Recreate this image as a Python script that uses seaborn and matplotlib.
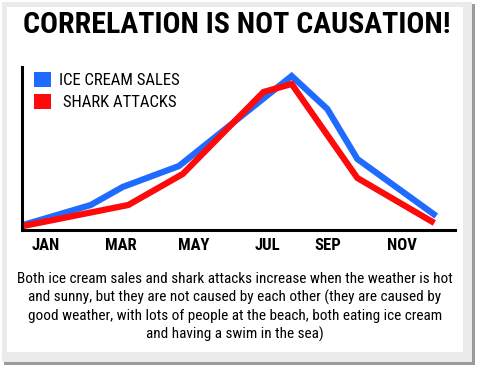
import pandas as pd
import matplotlib
matplotlib.use("Agg")
import matplotlib.pyplot as plt
import seaborn as sns
from matplotlib.patches import Rectangle, Patch

# Data (x in months from January, y in arbitrary units)
ice_month = [0, 1.8, 2.65, 4.15, 7.15, 8.1, 8.9, 11.0]
ice_sales = [5, 25, 43, 64, 154, 121, 71, 14]
shark_month = [0, 2.8, 4.25, 6.4, 7.15, 8.9, 10.95]
shark_attacks = [4, 25, 56, 138, 146, 52, 7]

tick_pos = [0.6, 2.6, 4.55, 6.5, 8.1, 10.1]
tick_labels = ["JAN", "MAR", "MAY", "JUL", "SEP", "NOV"]
series_names = ["ICE CREAM SALES", " SHARK ATTACKS"]
colors = ["#1f6bff", "#ff0a0a"]

title = "CORRELATION IS NOT CAUSATION!"
caption = ("Both ice cream sales and shark attacks increase when the weather is hot\n"
           "and sunny, but they are not caused by each other (they are caused by\n"
           "good weather, with lots of people at the beach, both eating ice cream\n"
           "and having a swim in the sea)")

df = pd.concat([
    pd.DataFrame({"month": ice_month, "value": ice_sales, "series": series_names[0]}),
    pd.DataFrame({"month": shark_month, "value": shark_attacks, "series": series_names[1]}),
])

sns.set_style("white")
plt.rcParams['font.family'] = ['Roboto Condensed', 'Liberation Sans Narrow', 'DejaVu Sans']
plt.rcParams['font.stretch'] = 'condensed'
plt.rcParams['text.color'] = 'black'
plt.rcParams['xtick.color'] = 'black'

W, H = 480, 368
fig = plt.figure(figsize=(W / 100, H / 100), dpi=100, facecolor="white")

def box(x0, y0, x1, y1, **kw):
    # rectangle given in pixel coords (top-left origin)
    return Rectangle((x0 / W, 1 - y1 / H), (x1 - x0) / W, (y1 - y0) / H,
                     transform=fig.transFigure, **kw)

# frame: shadow, gray border, white card
fig.patches.append(box(4, 4, 475, 365, facecolor="#9a9a9a", edgecolor="none", zorder=-3))
fig.patches.append(box(2, 2, 472, 362, facecolor="#ebebeb", edgecolor="none", zorder=-2))
fig.patches.append(box(7, 7, 463, 352, facecolor="white", edgecolor="none", zorder=-1))

ax = fig.add_axes([22 / W, 1 - 230 / H, (455 - 22) / W, (230 - 67) / H])
ax.set_zorder(5)
ax.patch.set_alpha(0)
sns.lineplot(data=df, x="month", y="value", hue="series", palette=colors,
             sort=False, linewidth=4.5, legend=False, ax=ax)
for ln in ax.lines:
    ln.set_solid_capstyle("butt")
    ln.set_solid_joinstyle("miter")

ax.set_xlim(-0.03, 11.5)
ax.set_ylim(0, 163)
ax.set_xticks(tick_pos)
ax.set_xticklabels(tick_labels, fontsize=12, fontweight="bold")
ax.set_yticks([])
ax.set_xlabel("")
ax.set_ylabel("")
ax.tick_params(axis="x", length=0, pad=6)
for side in ["top", "right"]:
    ax.spines[side].set_visible(False)
for side in ["left", "bottom"]:
    ax.spines[side].set_linewidth(2.2)
    ax.spines[side].set_color("black")

handles = [Patch(facecolor=c, edgecolor="none") for c in colors]
ax.legend(handles, series_names, loc="upper left", bbox_to_anchor=(0.012, 1.01),
          frameon=False, fontsize=12, handlelength=1.0, handleheight=1.0,
          handletextpad=0.5, labelspacing=0.35, borderaxespad=0)

fig.text(237 / W, 1 - 25 / H, title, ha="center", va="center",
         fontsize=21.5, fontweight="bold")
fig.text(235 / W, 1 - 307 / H, caption, ha="center", va="center",
         fontsize=11, linespacing=1.3)

fig.savefig("out.png", dpi=100, facecolor="white")
